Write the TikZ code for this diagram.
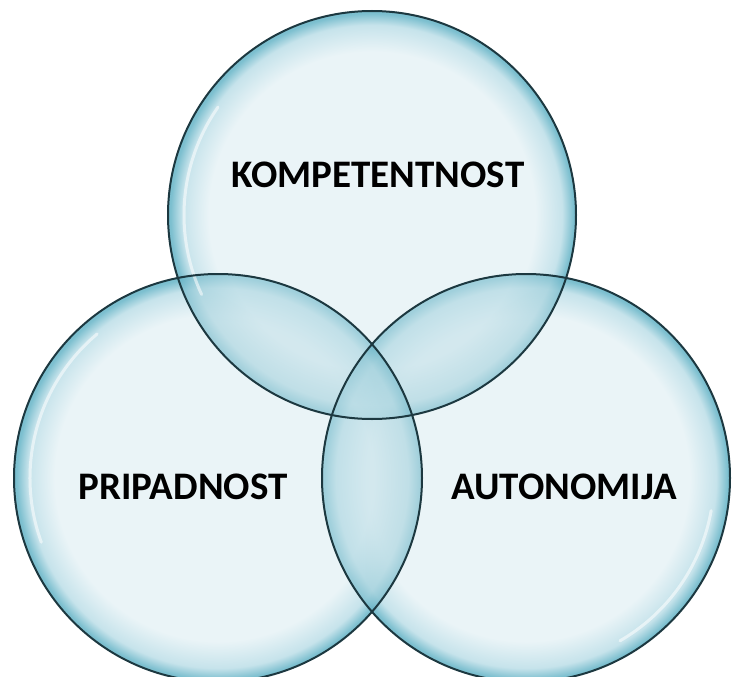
\documentclass[tikz,border=0pt]{standalone}
\usepackage{fontspec}
\setmainfont{Carlito}
\definecolor{bubblein}{HTML}{EAF4F7}
\definecolor{bubblemid}{HTML}{C6E3EB}
\definecolor{bubbleout}{HTML}{7CBFCF}
\definecolor{tintin}{HTML}{CDE6ED}
\definecolor{tintmid}{HTML}{A6D3DE}
\definecolor{tintout}{HTML}{6CB6C8}
\definecolor{bubblerim}{HTML}{1C3840}
\pgfdeclareradialshading{bubble}{\pgfpoint{0bp}{0bp}}{%
  color(0bp)=(bubblein); color(20bp)=(bubblein);
  color(23.3bp)=(bubblemid); color(24.7bp)=(bubbleout); color(50bp)=(bubbleout)}
\pgfdeclareradialshading{tint}{\pgfpoint{0bp}{0bp}}{%
  color(0bp)=(tintin); color(19bp)=(tintin);
  color(23.3bp)=(tintmid); color(24.7bp)=(tintout); color(50bp)=(tintout)}
\tikzset{
  ring/.style={circle, minimum size=408pt, inner sep=0pt, draw=none,
    shading=bubble},
  lens/.style={shading=tint, fill opacity=0.5},
  rim/.style={draw=bubblerim, line width=2pt},
  gleam/.style={draw=white, opacity=0.55, line width=3pt, line cap=round},
  word/.style={font=\bfseries\fontsize{39}{40}\selectfont, text=black}
}
\begin{document}
\begin{tikzpicture}[x=1pt, y=-1pt]
        \useasboundingbox (0,0) rectangle (734,677);
        % Circles
        \node[ring] (komp) at (372,215) {};
        \node[ring] (prip) at (218,478) {};
        \node[ring] (auto) at (526,478) {};
        % Overlaps
        \foreach \a/\b in {komp/prip,prip/komp,komp/auto,auto/komp,prip/auto,auto/prip}{
            \begin{scope}
                \clip (\a.center) circle (204pt);
                \shade[lens] (\b.center) circle (204pt);
            \end{scope}
        }
        % Highlights
        \draw[gleam] ([shift={(145:188pt)}]komp.center) arc[start angle=145, end angle=205, radius=188pt];
        \draw[gleam] ([shift={(130:188pt)}]prip.center) arc[start angle=130, end angle=200, radius=188pt];
        \draw[gleam] ([shift={(-10:188pt)}]auto.center) arc[start angle=-10, end angle=-60, radius=188pt];
        \foreach \c in {komp,prip,auto}
            \draw[rim] (\c.center) circle (204pt);
        % Labels
        \node[word] (kompt) at (378,175) {KOMPETENTNOST};
        \node[word] (pript) at (183,487) {PRIPADNOST};
        \node[word] (autot) at (564,487) {AUTONOMIJA};
    \end{tikzpicture}
\end{document}
